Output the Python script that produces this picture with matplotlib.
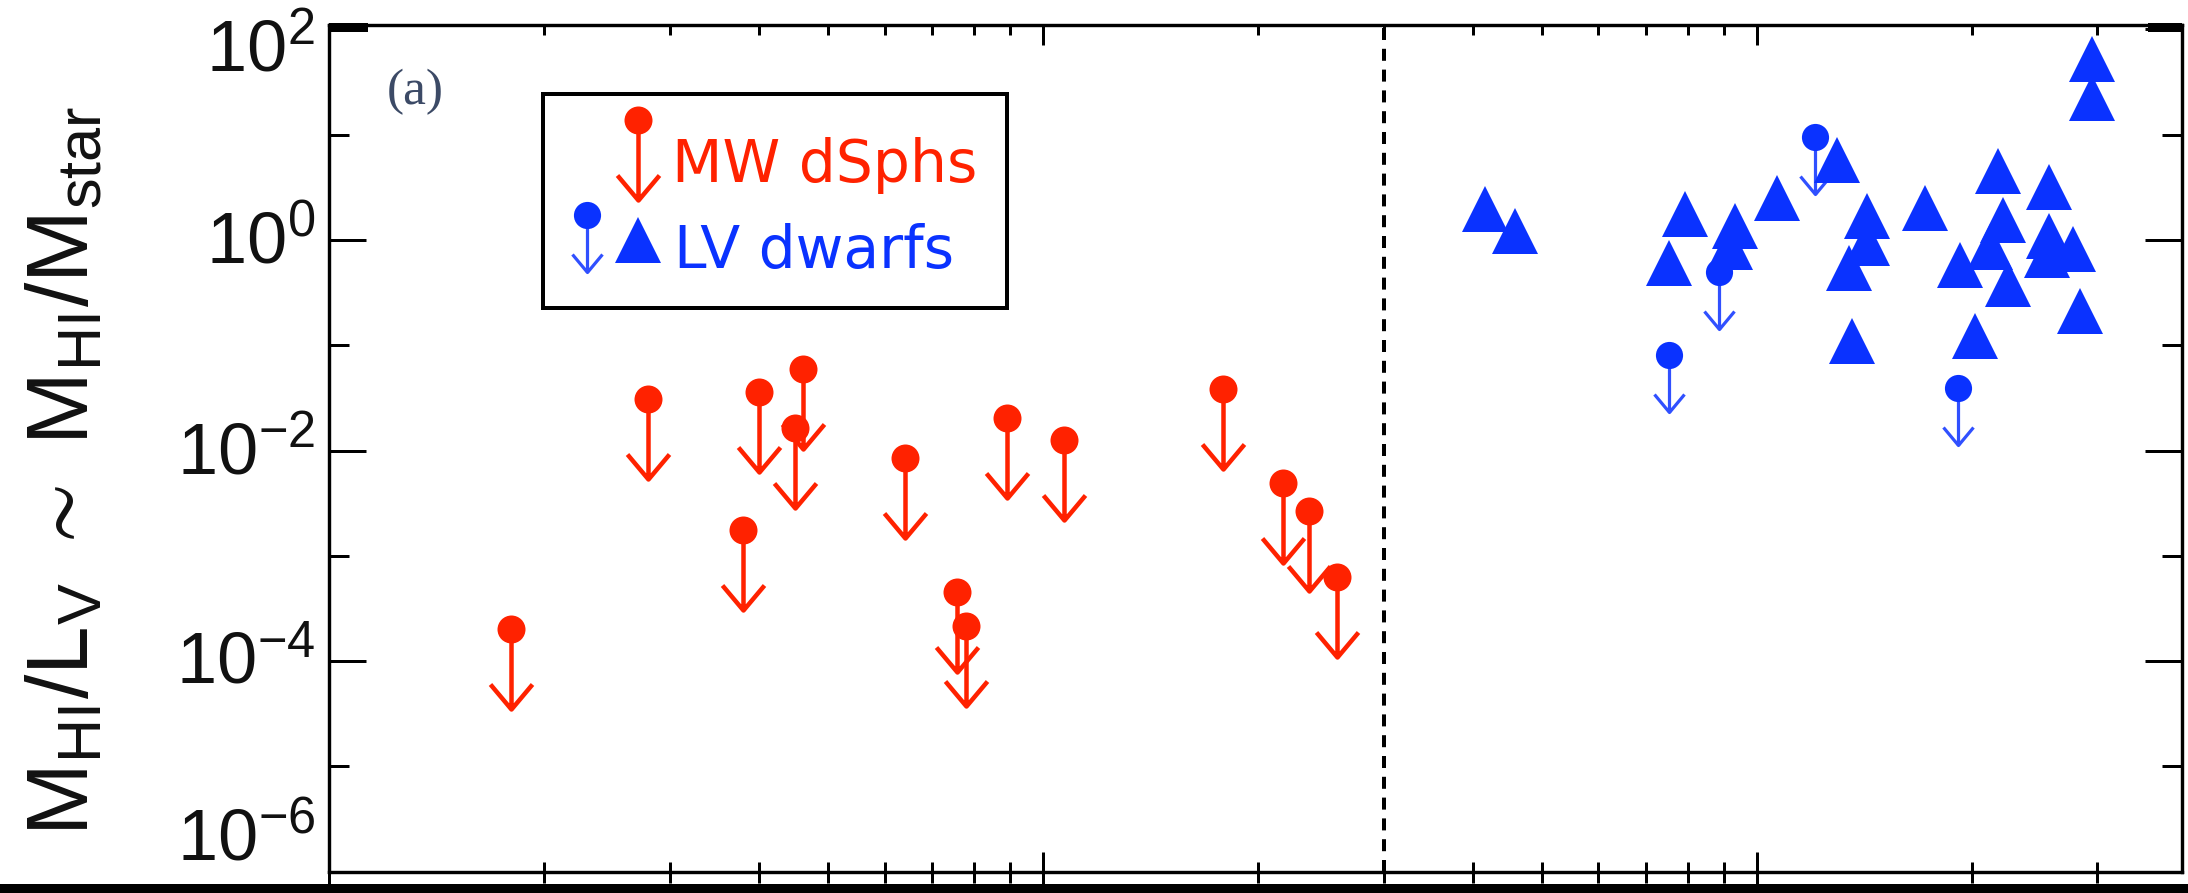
import numpy as np
import matplotlib
matplotlib.use("Agg")
import matplotlib.pyplot as plt
from matplotlib.path import Path
import matplotlib.transforms as mtransforms
from matplotlib.patches import Rectangle
from matplotlib.ticker import FixedLocator, LogLocator, NullFormatter

# ---------------- data ----------------
# Milky Way dSphs (upper limits): distance [kpc], M_HI/L_V
mw_dist = [18.0, 28.0, 40.0, 46.1, 45.0, 38.0, 64.0, 75.9, 78.0, 89.0,
           107.0, 179.0, 217.0, 235.5, 258.0]
mw_ratio = [2.0e-4, 0.0307, 0.0360, 0.0591, 0.0163, 1.76e-3, 8.5e-3, 4.55e-4,
            2.15e-4, 0.0202, 0.0126, 0.0382, 4.9e-3, 2.66e-3, 6.3e-4]

# Local Volume dwarfs, upper limits
lv_ul_dist = [884.0, 753.0, 1207.0, 1916.0]
lv_ul_ratio = [0.50, 0.081, 9.6, 0.039]

# Local Volume dwarfs, detections
lv_dist = [416, 459, 794, 753, 932, 918, 1067, 1294, 1426, 1426, 1344, 1359,
           1721, 2180, 2215, 2122, 1926, 2251, 2569, 2569, 2548, 2776, 2837,
           2945, 2945, 2022]
lv_ratio = [1.96, 1.21, 1.75, 0.61, 1.36, 0.86, 2.52, 5.72, 1.69, 0.93, 0.54,
            0.11, 2.0, 4.5, 1.55, 0.86, 0.58, 0.38, 3.17, 1.08, 0.72, 0.82,
            0.21, 52.1, 22.2, 0.122]

divider_dist = 300.0
ytick_vals = [1e-6, 1e-4, 1e-2, 1e0, 1e2]
ytick_labels = [r"$\mathregular{10^{-6}}$", r"$\mathregular{10^{-4}}$",
                r"$\mathregular{10^{-2}}$", r"$\mathregular{10^{0}}$",
                r"$\mathregular{10^{2}}$"]
yminor_vals = [1e-5, 1e-3, 1e-1, 1e1]
legend_labels = ["MW dSphs", "LV dwarfs"]
ylabel_text = r"$\mathregular{M_{HI}/L_{V}\ \sim\ M_{HI}/M_{star}}$"

RED = "#ff2200"
BLUE = "#0a32ff"
BLUE_L = "#3050ff"

# ---------------- figure ----------------
W, H, DPI = 2188, 893, 100
plt.rcParams["font.family"] = ["Liberation Sans", "DejaVu Sans"]
plt.rcParams["mathtext.fontset"] = "custom"
plt.rcParams["mathtext.rm"] = "Liberation Sans"
plt.rcParams["mathtext.it"] = "Liberation Sans:italic"
plt.rcParams["mathtext.bf"] = "Liberation Sans:bold"

fig = plt.figure(figsize=(W / DPI, H / DPI), dpi=DPI)
PT = 72.0 / DPI  # points per pixel

# pixel -> figure transform (y downward from top)
pxT = mtransforms.Affine2D().scale(1.0 / W, -1.0 / H).translate(0, 1) + fig.transFigure

ax_l, ax_r, ax_t, ax_b = 329, 2182, 25, 871.7
ax = fig.add_axes([ax_l / W, 1 - ax_b / H, (ax_r - ax_l) / W, (ax_b - ax_t) / H])
ax.set_xscale("log")
ax.set_yscale("log")
ax.set_xlim(10, 3940)
ax.set_ylim(1e-6, 110)

for s in ax.spines.values():
    s.set_linewidth(3.2 * PT)

# y ticks
ax.yaxis.set_major_locator(FixedLocator(ytick_vals))
ax.yaxis.set_minor_locator(FixedLocator(yminor_vals))
ax.yaxis.set_major_formatter(NullFormatter())
ax.yaxis.set_minor_formatter(NullFormatter())
ax.tick_params(axis="y", which="major", direction="in", length=37 * PT,
               width=3 * PT, left=True, right=True, labelleft=False)
ax.tick_params(axis="y", which="minor", direction="in", length=20 * PT,
               width=3 * PT, left=True, right=True)

# x ticks (bottom: in-out)
ax.xaxis.set_major_locator(LogLocator(base=10, numticks=10))
ax.xaxis.set_minor_locator(LogLocator(base=10, subs=np.arange(2, 10), numticks=20))
ax.xaxis.set_major_formatter(NullFormatter())
ax.xaxis.set_minor_formatter(NullFormatter())
ax.tick_params(axis="x", which="major", direction="inout", length=40 * PT,
               width=3 * PT, bottom=True, top=False, labelbottom=False)
ax.tick_params(axis="x", which="minor", direction="inout", length=21 * PT,
               width=3 * PT, bottom=True, top=False)

# top ticks (inward only)
axt = ax.twiny()
axt.set_xscale("log")
axt.set_xlim(ax.get_xlim())
axt.xaxis.set_major_locator(LogLocator(base=10, numticks=10))
axt.xaxis.set_minor_locator(LogLocator(base=10, subs=np.arange(2, 10), numticks=20))
axt.xaxis.set_major_formatter(NullFormatter())
axt.xaxis.set_minor_formatter(NullFormatter())
axt.tick_params(axis="x", which="major", direction="in", length=20 * PT, width=3 * PT)
axt.tick_params(axis="x", which="minor", direction="in", length=10 * PT, width=3 * PT)
for s in axt.spines.values():
    s.set_linewidth(3.2 * PT)

# y tick labels as text, end labels nudged inside the axis range
ytrans = mtransforms.blended_transform_factory(ax.transAxes, ax.transData)
nudges = {1e-6: 31, 1e2: -22}
for v, lab in zip(ytick_vals, ytick_labels):
    off = mtransforms.ScaledTranslation(-14 / DPI, nudges.get(v, -4) / DPI, fig.dpi_scale_trans)
    ax.text(0, v, lab, transform=ytrans + off, ha="right", va="center",
            fontsize=52, color="#111111", clip_on=False)

# custom upper-limit arrow markers
MV, LT = Path.MOVETO, Path.LINETO
red_arrow = Path([(0, 0), (0, -80), (-21, -55), (0, -80), (21, -55)], [MV, LT, MV, LT, LT])
blue_arrow = Path([(0, 0), (0, -57), (-15, -39), (0, -57), (15, -39)], [MV, LT, MV, LT, LT])
RED_ARROW_MS = 160 * PT
BLUE_ARROW_MS = 114 * PT
CIRC_MS = 28 * PT
TRI_MS = 47 * PT

# divider
ax.axvline(divider_dist, color="k", lw=4 * PT, ls=(0, (3.0, 2.2)), zorder=1)

# MW dSphs
ax.plot(mw_dist, mw_ratio, ls="none", marker=red_arrow, ms=RED_ARROW_MS,
        mec=RED, mfc="none", mew=4.5 * PT, zorder=3)
ax.plot(mw_dist, mw_ratio, ls="none", marker="o", ms=CIRC_MS, mfc=RED,
        mec=RED, mew=0, zorder=4)

# LV upper limits
ax.plot(lv_ul_dist, lv_ul_ratio, ls="none", marker=blue_arrow, ms=BLUE_ARROW_MS,
        mec=BLUE_L, mfc="none", mew=3.2 * PT, zorder=3)
ax.plot(lv_ul_dist, lv_ul_ratio, ls="none", marker="o", ms=CIRC_MS * 0.97,
        mfc=BLUE, mec=BLUE, mew=0, zorder=4)
# LV detections
ax.plot(lv_dist, lv_ratio, ls="none", marker="^", ms=TRI_MS, mfc=BLUE,
        mec=BLUE, mew=0, zorder=5)

# thick corner bars on top spine
for x0, x1 in [(ax_l, 368), (2148, ax_r)]:
    fig.patches.append(Rectangle((x0, 32), x1 - x0, -9, transform=pxT,
                                 facecolor="k", edgecolor="none", zorder=10))

# legend (manual)
fig.patches.append(Rectangle((543.3, 94), 1007.3 - 543.3, 308.3 - 94, transform=pxT,
                             facecolor="white", edgecolor="k", lw=4 * PT, zorder=6))
leg_items = [
    (dict(marker=red_arrow, ms=RED_ARROW_MS, mec=RED, mfc="none", mew=4.5 * PT), (638.3, 120)),
    (dict(marker="o", ms=CIRC_MS, mfc=RED, mec=RED, mew=0), (638.3, 120)),
    (dict(marker=blue_arrow, ms=BLUE_ARROW_MS, mec=BLUE_L, mfc="none", mew=3.2 * PT), (587.3, 215)),
    (dict(marker="o", ms=CIRC_MS * 0.97, mfc=BLUE, mec=BLUE, mew=0), (587.3, 215)),
    (dict(marker="^", ms=TRI_MS, mfc=BLUE, mec=BLUE, mew=0), (638.3, 240)),
]
for kw, (px, py) in leg_items:
    ln = matplotlib.lines.Line2D([px], [py], ls="none", transform=pxT, zorder=7, **kw)
    fig.add_artist(ln)
fig.text(672, 181.7, legend_labels[0], transform=pxT, color=RED, fontsize=42,
         family="DejaVu Sans", ha="left", va="baseline", zorder=8)
fig.text(674, 268.3, legend_labels[1], transform=pxT, color=BLUE, fontsize=42,
         family="DejaVu Sans", ha="left", va="baseline", zorder=8)

# panel label
fig.text(415, 92, "(a)", transform=pxT, family="Liberation Serif", fontsize=37,
         color="#3c4a66", ha="center", va="center")

# y label
fig.text(66, 471, ylabel_text, transform=pxT, rotation=90, ha="center",
         va="center", fontsize=63, color="#111111")

# black band at the bottom of the image
fig.patches.append(Rectangle((0, 884), W, 9, transform=pxT, facecolor="k",
                             edgecolor="none", zorder=20))

fig.savefig("out.png", dpi=DPI, facecolor="white")
